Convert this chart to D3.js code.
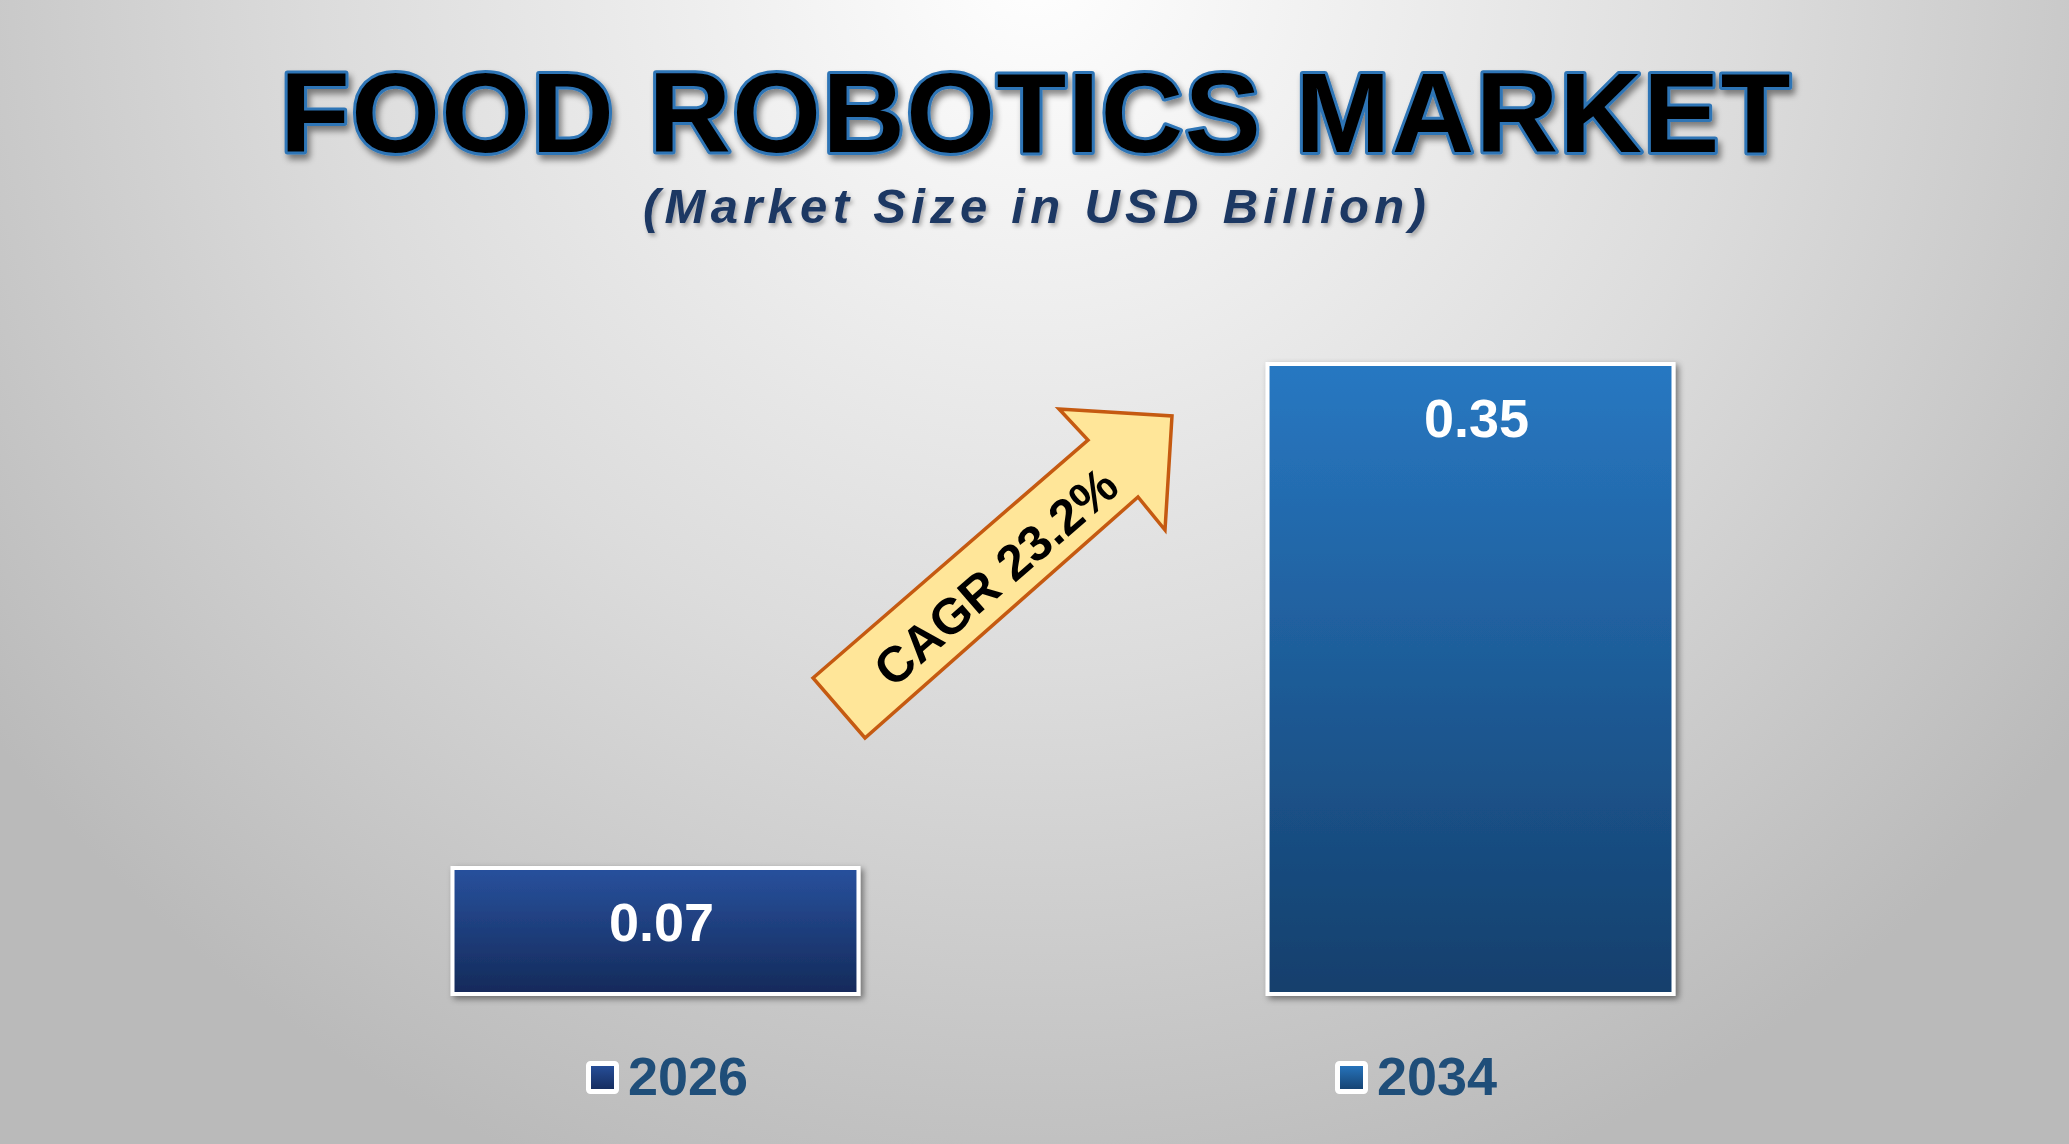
<!DOCTYPE html>
<html>
<head>
<meta charset="utf-8">
<script src="https://cdn.jsdelivr.net/npm/d3@7"></script>
<style>
  html, body { margin: 0; padding: 0; overflow: hidden; }
  body { font-family: "Liberation Sans", Arial, sans-serif; }
</style>
</head>
<body>
<div id="chart"></div>
<script>
// data
const years = ["2026", "2034"];
const marketSize = [0.07, 0.35];
const valueLabels = ["0.07", "0.35"];
const cagrLabel = "CAGR 23.2%";

const width = 2069, height = 1144;

const svg = d3.select("#chart")
    .append("svg")
    .attr("width", width)
    .attr("height", height);

const defs = svg.append("defs");

// background glow
const bg = defs.append("radialGradient")
    .attr("id", "bg-grad")
    .attr("gradientUnits", "userSpaceOnUse")
    .attr("cx", 1035).attr("cy", -40).attr("r", 1300);
bg.append("stop").attr("offset", "0%").attr("stop-color", "#ffffff");
bg.append("stop").attr("offset", "55%").attr("stop-color", "#dcdcdc");
bg.append("stop").attr("offset", "100%").attr("stop-color", "#bababa");

svg.append("rect")
    .attr("width", width)
    .attr("height", height)
    .attr("fill", "url(#bg-grad)");

// bar gradients
const barColors = [["#28519d", "#142a5a"], ["#2878c2", "#143f6c"]];
barColors.forEach((c, i) => {
    const g = defs.append("linearGradient")
        .attr("id", "bar-grad-" + i)
        .attr("x1", 0).attr("y1", 0).attr("x2", 0).attr("y2", 1);
    g.append("stop").attr("offset", "0%").attr("stop-color", c[0]);
    g.append("stop").attr("offset", "100%").attr("stop-color", c[1]);
});

// shadows
const shadow = defs.append("filter").attr("id", "shadow")
    .attr("x", "-10%").attr("y", "-10%").attr("width", "130%").attr("height", "130%");
shadow.append("feDropShadow")
    .attr("dx", 3).attr("dy", 3).attr("stdDeviation", 3)
    .attr("flood-color", "#000").attr("flood-opacity", 0.45);

const textShadow = defs.append("filter").attr("id", "text-shadow")
    .attr("x", "-5%").attr("y", "-20%").attr("width", "110%").attr("height", "150%");
textShadow.append("feDropShadow")
    .attr("dx", 3).attr("dy", 5).attr("stdDeviation", 3)
    .attr("flood-color", "#000").attr("flood-opacity", 0.45);

const softShadow = defs.append("filter").attr("id", "soft-shadow")
    .attr("x", "-5%").attr("y", "-20%").attr("width", "110%").attr("height", "150%");
softShadow.append("feDropShadow")
    .attr("dx", 2).attr("dy", 3).attr("stdDeviation", 2)
    .attr("flood-color", "#000").attr("flood-opacity", 0.3);

// title
svg.append("text")
    .attr("x", 1036)
    .attr("y", 152)
    .attr("text-anchor", "middle")
    .attr("font-size", 114)
    .attr("font-weight", "bold")
    .attr("letter-spacing", 1.5)
    .attr("fill", "#000")
    .attr("stroke", "#2e75b6")
    .attr("stroke-width", 6)
    .attr("stroke-linejoin", "round")
    .style("paint-order", "stroke fill")
    .attr("filter", "url(#text-shadow)")
    .text("FOOD ROBOTICS MARKET");

svg.append("text")
    .attr("x", 1037)
    .attr("y", 223)
    .attr("text-anchor", "middle")
    .attr("font-size", 49)
    .attr("font-weight", "bold")
    .attr("font-style", "italic")
    .attr("letter-spacing", 5.3)
    .attr("fill", "#1f3864")
    .attr("filter", "url(#soft-shadow)")
    .text("(Market Size in USD Billion)");

// scales
const x = d3.scaleBand()
    .domain(years)
    .range([43, 2083])
    .paddingInner(0.497)
    .paddingOuter(0.5);

const y = d3.scaleLinear()
    .domain([0, 0.35])
    .range([994, 364]);

// bars
const bars = svg.append("g").selectAll("g")
    .data(years)
    .join("g");

bars.append("rect")
    .attr("x", d => x(d) + 2)
    .attr("y", (d, i) => y(marketSize[i]))
    .attr("width", x.bandwidth() - 4)
    .attr("height", (d, i) => y(0) - y(marketSize[i]))
    .attr("fill", (d, i) => `url(#bar-grad-${i})`)
    .attr("stroke", "#ffffff")
    .attr("stroke-width", 4)
    .attr("filter", "url(#shadow)");

bars.append("text")
    .attr("x", d => x(d) + x.bandwidth() / 2 + 6)
    .attr("y", (d, i) => y(marketSize[i]) + 73)
    .attr("text-anchor", "middle")
    .attr("font-size", 54)
    .attr("font-weight", "bold")
    .attr("fill", "#ffffff")
    .text((d, i) => valueLabels[i]);

// CAGR arrow
const arrowPts = [[813, 678], [1088, 440], [1059, 409], [1172, 416], [1165, 530], [1138, 497], [865, 738]];
svg.append("path")
    .attr("d", d3.line()(arrowPts) + "Z")
    .attr("fill", "#ffe699")
    .attr("stroke", "#c55a11")
    .attr("stroke-width", 3.5)
    .attr("stroke-linejoin", "miter");

svg.append("text")
    .attr("transform", "translate(996,577) rotate(-41)")
    .attr("text-anchor", "middle")
    .attr("dominant-baseline", "central")
    .attr("font-size", 50)
    .attr("font-weight", "bold")
    .attr("fill", "#000")
    .text(cagrLabel);

// legend
const lx = d3.scalePoint()
    .domain(years)
    .range([586, 1335]);

const legend = svg.append("g").selectAll("g")
    .data(years)
    .join("g")
    .attr("transform", d => `translate(${lx(d)},1061)`);

legend.append("rect")
    .attr("x", 2.5).attr("y", 2.5)
    .attr("width", 28).attr("height", 28)
    .attr("rx", 2)
    .attr("fill", (d, i) => `url(#bar-grad-${i})`)
    .attr("stroke", "#ffffff")
    .attr("stroke-width", 5);

legend.append("text")
    .attr("x", 42)
    .attr("y", 34)
    .attr("font-size", 54)
    .attr("font-weight", "bold")
    .attr("fill", "#1f4e79")
    .text(d => d);
</script>
</body>
</html>
